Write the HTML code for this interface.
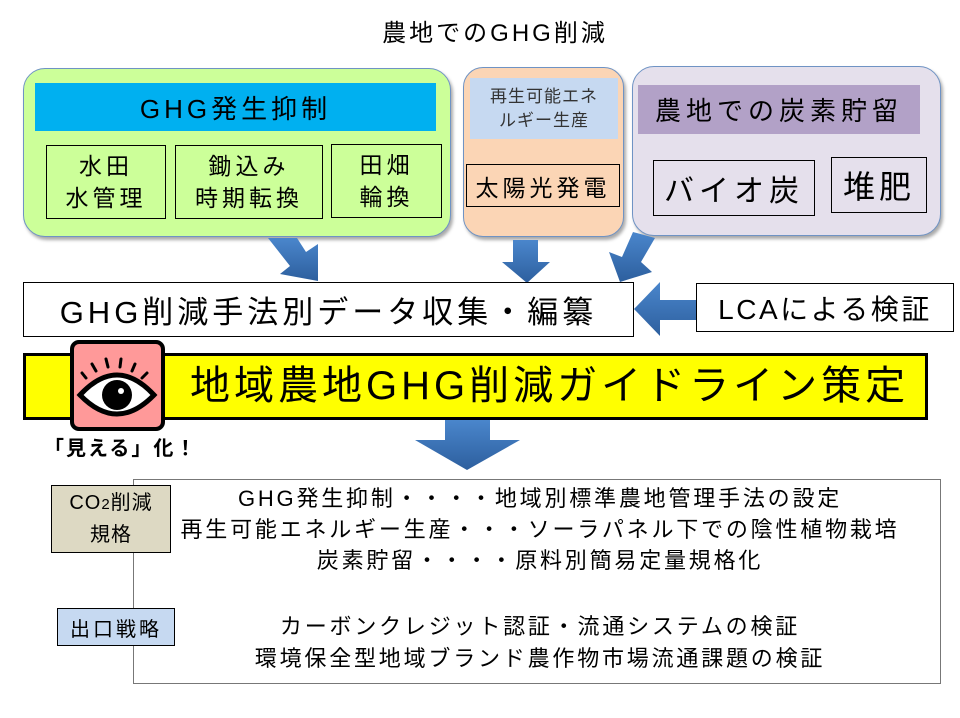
<!DOCTYPE html>
<html><head><meta charset="utf-8"><style>
body{margin:0;width:960px;height:718px;background:#fff;position:relative;overflow:hidden;font-family:"Liberation Sans","Noto Sans CJK JP",sans-serif;color:#000}
.a{position:absolute;box-sizing:border-box}
.c{display:flex;align-items:center;justify-content:center;text-align:center;white-space:nowrap}
</style></head><body>
<div class="a c" style="left:300px;top:12px;width:390px;height:36px;font-size:24px;letter-spacing:3px">農地でのGHG削減</div>

<div class="a" style="left:23px;top:68px;width:428px;height:169px;background:#ccff99;border:1.5px solid #6f93c4;border-radius:22px;box-shadow:2px 3px 3px #aaa"></div>
<div class="a c" style="left:35px;top:83px;width:401px;height:48px;background:#00b0f0;font-size:26px;letter-spacing:4px">GHG発生抑制</div>
<div class="a c" style="left:46px;top:145px;width:120px;height:74px;border:1px solid #000;font-size:23px;line-height:32px;letter-spacing:4px">水田<br>水管理</div>
<div class="a c" style="left:175px;top:145px;width:148px;height:74px;border:1px solid #000;font-size:23px;line-height:32px;letter-spacing:4px">鋤込み<br>時期転換</div>
<div class="a c" style="left:331px;top:144px;width:111px;height:74px;border:1px solid #000;font-size:23px;line-height:32px;letter-spacing:4px">田畑<br>輪換</div>

<div class="a" style="left:463px;top:67px;width:161px;height:170px;background:#fbd5b5;border:1.5px solid #6f93c4;border-radius:20px;box-shadow:2px 3px 3px #aaa"></div>
<div class="a c" style="left:470px;top:78px;width:148px;height:61px;background:#c6d9f1;font-size:17px;line-height:24px;color:#333;letter-spacing:1px">再生可能エネ<br>ルギー生産</div>
<div class="a c" style="left:466px;top:164px;width:154px;height:43px;border:1px solid #000;font-size:23px;letter-spacing:4px">太陽光発電</div>

<div class="a" style="left:632px;top:66px;width:309px;height:170px;background:#e5e0ec;border:1.5px solid #6f93c4;border-radius:22px;box-shadow:2px 3px 3px #aaa"></div>
<div class="a c" style="left:638px;top:85px;width:282px;height:49px;background:#b2a1c7;font-size:26px;letter-spacing:5px">農地での炭素貯留</div>
<div class="a c" style="left:653px;top:160px;width:162px;height:56px;border:1px solid #000;font-size:30px;letter-spacing:5px">バイオ炭</div>
<div class="a c" style="left:831px;top:157px;width:96px;height:56px;border:1px solid #000;font-size:32px;letter-spacing:4px">堆肥</div>

<svg class="a" style="left:0;top:0" width="960" height="718">
<defs><linearGradient id="g" x1="0" y1="0" x2="0" y2="1"><stop offset="0" stop-color="#4a86cc"/><stop offset="1" stop-color="#2d5f9e"/></linearGradient></defs>
<g fill="url(#g)">
<polygon points="268,238 297,238 306,252 318,244 318,281 280,274 290,266"/>
<polygon points="513,240 538,240 538,262 550,262 527,283 502,262 513,262"/>
<polygon points="633,232 655,238 641,262 652,272 620,282 609,252 622,257"/>
<polygon points="696,300 696,320 660,320 660,336 634,309 660,282 660,300"/>
<polygon points="445,420 490,420 490,440 520,440 467,470 415,440 445,440"/>
</g>
</svg>

<div class="a c" style="left:23px;top:282px;width:611px;height:55px;border:1.5px solid #000;font-size:31px;letter-spacing:4px">GHG削減手法別データ収集・編纂</div>
<div class="a c" style="left:696px;top:283px;width:258px;height:49px;border:1.5px solid #000;font-size:28px;letter-spacing:2.5px">LCAによる検証</div>

<div class="a" style="left:23px;top:353px;width:905px;height:67px;background:#ffff00;border:3px solid #000"></div>
<div class="a" style="left:190px;top:357px;font-size:40px;line-height:58px;white-space:nowrap;letter-spacing:4px">地域農地GHG削減ガイドライン策定</div>
<div class="a" style="left:70px;top:340px;width:95px;height:91px;background:#ff9999;border:4px solid #000;border-radius:9px"></div>
<svg class="a" style="left:70px;top:340px" width="95" height="91">
<g stroke="#000" stroke-width="3" stroke-linecap="round">
<line x1="16" y1="38" x2="12" y2="33"/><line x1="26" y1="31" x2="22" y2="24"/><line x1="38" y1="27" x2="36" y2="19"/><line x1="50" y1="27" x2="51" y2="19"/><line x1="62" y1="31" x2="65" y2="24"/><line x1="72" y1="38" x2="77" y2="33"/>
</g>
<path d="M10,55 Q47,15 84,55 Q47,93 10,55 Z" fill="#fff" stroke="#000" stroke-width="5"/>
<circle cx="47" cy="55" r="15" fill="#000"/><circle cx="51" cy="51" r="3" fill="#fff"/>
</svg>
<div class="a" style="left:44px;top:432px;font-size:20px;font-weight:bold;white-space:nowrap;letter-spacing:2px">「見える」化！</div>

<div class="a" style="left:133px;top:479px;width:808px;height:205px;border:1.5px solid #777"></div>
<div class="a c" style="left:51px;top:485px;width:120px;height:68px;background:#ddd9c3;border:1px solid #000;font-size:20px;line-height:30px;letter-spacing:1px"><div>CO<span style="font-size:15px">2</span>削減<br>規格</div></div>
<div class="a c" style="left:57px;top:608px;width:118px;height:38px;background:#c6d9f1;border:1px solid #000;font-size:20px;letter-spacing:3px">出口戦略</div>
<div class="a" style="left:136px;top:483px;width:808px;text-align:center;font-size:22px;line-height:31px;letter-spacing:2.8px;white-space:nowrap">
GHG発生抑制・・・・地域別標準農地管理手法の設定<br>再生可能エネルギー生産・・・ソーラパネル下での陰性植物栽培<br>炭素貯留・・・・原料別簡易定量規格化</div>
<div class="a" style="left:136px;top:611px;width:808px;text-align:center;font-size:22px;line-height:32px;letter-spacing:2.8px;white-space:nowrap">
カーボンクレジット認証・流通システムの検証<br>環境保全型地域ブランド農作物市場流通課題の検証</div>
</body></html>
